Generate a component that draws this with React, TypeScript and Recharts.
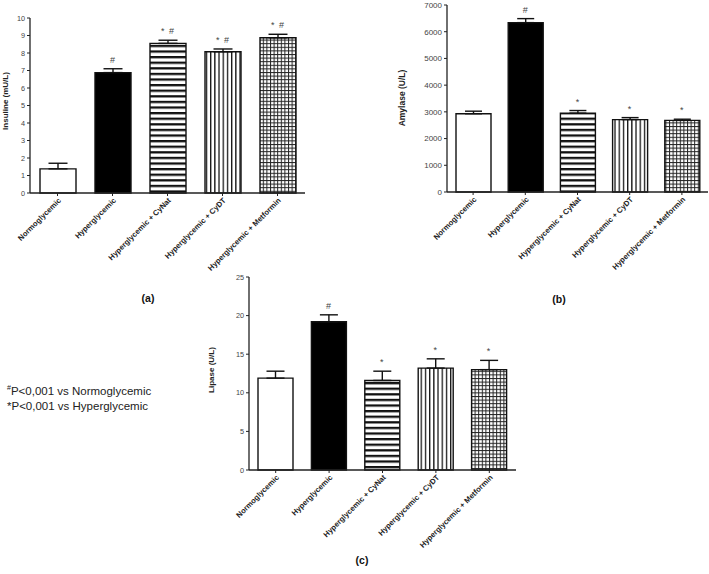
import { Bar, BarChart, Cell, ErrorBar, LabelList, XAxis, YAxis } from "recharts";

const groups = [
  "Normoglycemic",
  "Hyperglycemic",
  "Hyperglycemic + CyNat",
  "Hyperglycemic + CyDT",
  "Hyperglycemic + Metformin",
];

const insulinMean = [1.38, 6.88, 8.55, 8.07, 8.87];
const insulinSem = [0.32, 0.22, 0.18, 0.16, 0.2];
const insulinMarks = ["", "#", "* #", "* #", "* #"];
const insulinTicks = [0, 1, 2, 3, 4, 5, 6, 7, 8, 9, 10];

const amylaseMean = [2930, 6340, 2950, 2710, 2680];
const amylaseSem = [95, 150, 100, 75, 45];
const amylaseMarks = ["", "#", "*", "*", "*"];
const amylaseTicks = [0, 1000, 2000, 3000, 4000, 5000, 6000, 7000];

const lipaseMean = [11.9, 19.2, 11.6, 13.2, 13.0];
const lipaseSem = [0.9, 0.9, 1.2, 1.2, 1.2];
const lipaseMarks = ["", "#", "*", "*", "*"];
const lipaseTicks = [0, 5, 10, 15, 20, 25];

const FONT = "'Liberation Sans', Arial, sans-serif";

type PanelProps = {
  id: string;
  mean: number[];
  sem: number[];
  marks: string[];
  ticks: number[];
  left: number;
  top: number;
  width: number;
  height: number;
  margin: { top: number; right: number; left: number; bottom: number };
  xHeight: number;
  barSize: number;
  capHalf: number;
  tickFont: number;
};

function SlantTick(props: any) {
  const { x, y, payload } = props;
  return (
    <text
      transform={`translate(${x + 2},${y + 1}) rotate(-45)`}
      textAnchor="end"
      dy="0.35em"
      fontSize={7.6}
      fontWeight="bold"
      fontFamily={FONT}
      fill="#222"
    >
      {payload.value}
    </text>
  );
}

function Panel(p: PanelProps) {
  const data = groups.map((g, i) => ({
    group: g,
    mean: p.mean[i],
    err: [0, p.sem[i]],
    mark: p.marks[i],
  }));
  const fills = ["#fff", "#000", `url(#${p.id}-h)`, `url(#${p.id}-v)`, `url(#${p.id}-g)`];

  // marks sit just above the error bar cap
  const renderMark = (lp: any) => {
    const { x, y, width, height, index } = lp;
    const i = index ?? 0;
    const perUnit = Number(height) / p.mean[i];
    const errTop = Number(y) - p.sem[i] * perUnit;
    return (
      <text
        x={Number(x) + Number(width) / 2}
        y={errTop - 6}
        textAnchor="middle"
        fontSize={9}
        letterSpacing={1}
        fontFamily={FONT}
        fill="#444"
      >
        {p.marks[i]}
      </text>
    );
  };

  return (
    <div style={{ position: "absolute", left: p.left, top: p.top }}>
      <BarChart width={p.width} height={p.height} data={data} margin={p.margin}>
        <defs>
          <pattern id={`${p.id}-h`} width="6" height="5.6" patternUnits="userSpaceOnUse">
            <rect width="6" height="5.6" fill="#fff" />
            <rect width="6" height="2.3" fill="#111" />
          </pattern>
          <pattern id={`${p.id}-v`} width="4.2" height="6" patternUnits="userSpaceOnUse">
            <rect width="4.2" height="6" fill="#fff" />
            <rect width="1.3" height="6" fill="#111" />
          </pattern>
          <pattern id={`${p.id}-g`} width="3.6" height="3.6" patternUnits="userSpaceOnUse">
            <rect width="3.6" height="3.6" fill="#fff" />
            <rect width="1" height="3.6" fill="#222" />
            <rect width="3.6" height="1" fill="#222" />
          </pattern>
        </defs>
        <XAxis
          dataKey="group"
          interval={0}
          height={p.xHeight}
          tick={<SlantTick />}
          tickSize={3}
          tickMargin={2}
          axisLine={{ stroke: "#222", strokeWidth: 1.3 }}
          tickLine={{ stroke: "#222" }}
        />
        <YAxis
          width={30}
          domain={[p.ticks[0], p.ticks[p.ticks.length - 1]]}
          ticks={p.ticks}
          interval={0}
          tickSize={3}
          tickMargin={2}
          tick={{ fontSize: p.tickFont, fill: "#444", fontFamily: FONT }}
          axisLine={{ stroke: "#222", strokeWidth: 1.3 }}
          tickLine={{ stroke: "#222" }}
        />
        <Bar
          dataKey="mean"
          barSize={p.barSize}
          stroke="#111"
          strokeWidth={1.4}
          isAnimationActive={false}
        >
          {data.map((_, i) => (
            <Cell key={i} fill={fills[i]} />
          ))}
          <ErrorBar
            dataKey="err"
            direction="y"
            width={p.capHalf}
            stroke="#111"
            strokeWidth={1.4}
            isAnimationActive={false}
          />
          <LabelList dataKey="mark" content={renderMark} />
        </Bar>
      </BarChart>
    </div>
  );
}

export default function App() {
  return (
    <div
      style={{
        position: "absolute",
        left: 0,
        top: 0,
        width: 709,
        height: 574,
        background: "#fff",
        overflow: "hidden",
      }}
    >
      <Panel
        id="a"
        mean={insulinMean}
        sem={insulinSem}
        marks={insulinMarks}
        ticks={insulinTicks}
        left={0}
        top={0}
        width={320}
        height={300}
        margin={{ top: 18, right: 15, left: 0, bottom: 0 }}
        xHeight={107}
        barSize={36}
        capHalf={9.5}
        tickFont={7.3}
      />
      <Panel
        id="b"
        mean={amylaseMean}
        sem={amylaseSem}
        marks={amylaseMarks}
        ticks={amylaseTicks}
        left={417}
        top={0}
        width={292}
        height={300}
        margin={{ top: 5, right: 1, left: 0, bottom: 0 }}
        xHeight={108}
        barSize={35}
        capHalf={8.5}
        tickFont={8}
      />
      <Panel
        id="c"
        mean={lipaseMean}
        sem={lipaseSem}
        marks={lipaseMarks}
        ticks={lipaseTicks}
        left={219}
        top={270}
        width={302}
        height={304}
        margin={{ top: 7, right: 5, left: 0, bottom: 0 }}
        xHeight={104}
        barSize={35}
        capHalf={9}
        tickFont={7.3}
      />
      <svg
        width={709}
        height={574}
        style={{ position: "absolute", left: 0, top: 0, pointerEvents: "none" }}
        fontFamily={FONT}
      >
        <text transform="translate(8,101) rotate(-90)" textAnchor="middle" fontSize={8} fontWeight="bold" fill="#222">
          Insuline (mU/L)
        </text>
        <text transform="translate(405,98) rotate(-90)" textAnchor="middle" fontSize={8.5} fontWeight="bold" fill="#222">
          Amylase (U/L)
        </text>
        <text transform="translate(214,370) rotate(-90)" textAnchor="middle" fontSize={8} fontWeight="bold" fill="#222">
          Lipase (U/L)
        </text>
        <text x={148} y={302} textAnchor="middle" fontSize={10.5} fontWeight="bold" fill="#111">
          (a)
        </text>
        <text x={559} y={303} textAnchor="middle" fontSize={10.5} fontWeight="bold" fill="#111">
          (b)
        </text>
        <text x={362} y={564} textAnchor="middle" fontSize={10.5} fontWeight="bold" fill="#111">
          (c)
        </text>
        <text x={7} y={395} fontSize={11.5} fill="#222">
          <tspan fontSize={7} dy={-5}>#</tspan>
          <tspan dy={5}>P&lt;0,001 vs Normoglycemic</tspan>
        </text>
        <text x={7} y={410} fontSize={11.5} fill="#222">
          *P&lt;0,001 vs Hyperglycemic
        </text>
      </svg>
    </div>
  );
}
